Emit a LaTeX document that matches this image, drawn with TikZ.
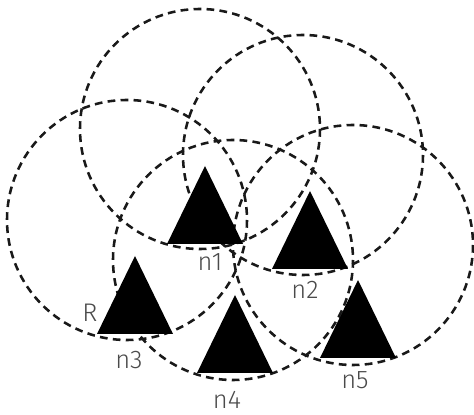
\documentclass[tikz,border=0pt]{standalone}
\usepackage{fontspec}
\usepackage{tikz}
\usetikzlibrary{positioning}
\newfontfamily\lblfont{Fira Sans Light}
\definecolor{inkgray}{HTML}{4A4A4A}
\tikzset{
  cover/.style={draw=black!90,line width=1.45pt,dash pattern=on 4.4pt off 3pt},
  sensor/.pic={\fill[black] (-38,0) -- (38,0) -- (0,-78) -- cycle;},
  lbl/.style={font=\lblfont\fontsize{14.5}{16}\selectfont,text=inkgray,
              inner sep=0pt},
}

\begin{document}
\begin{tikzpicture}[x=0.02cm,y=-0.02cm]
  \useasboundingbox (0,0) rectangle (474,415);

  % radio ranges
  \coordinate (c1) at (200,129);
  \coordinate (c2) at (303,155);
  \coordinate (c3) at (127,220);
  \coordinate (c4) at (233,260);
  \coordinate (c5) at (353,245);
  \foreach \c in {c1,c2,c3,c4,c5}
    \draw[cover] (\c) circle[radius=120];

  % sensors (base midpoints)
  \coordinate (s1) at (205,244);
  \coordinate (s2) at (310,269);
  \coordinate (s3) at (135,334);
  \coordinate (s4) at (235,373);
  \coordinate (s5) at (358,358);
  \foreach \s in {s1,s2,s3,s4,s5}
    \pic at (\s) {sensor};

  \node[lbl] (n1) at (210,262) {n1};
  \node[lbl] (n2) at (305,290) {n2};
  \node[lbl] (n3) at (129,360) {n3};
  \node[lbl] (n4) at (227,400) {n4};
  \node[lbl] (n5) at (355,380) {n5};
  \node[lbl] (rr) at (90,313)  {R};
\end{tikzpicture}
\end{document}
